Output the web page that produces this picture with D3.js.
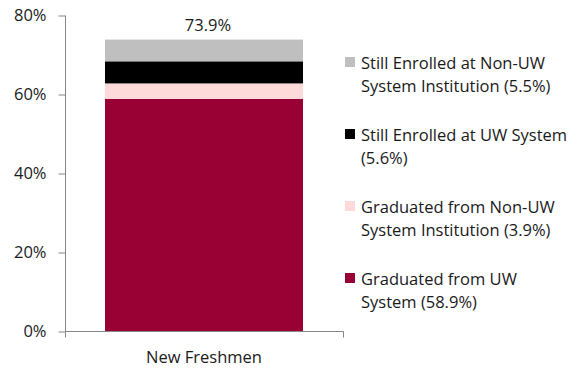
<!DOCTYPE html>
<html lang="en">
<head>
<meta charset="utf-8">
<title>New Freshmen outcomes</title>
<style>
  body { margin: 0; background: #fff; }
  text { font-family: "Open Sans", sans-serif; fill: #1a1a1a; }
</style>
</head>
<body>
<script src="https://d3js.org/d3.v7.min.js"></script>
<script>
// data
var categories = ["New Freshmen"];
var seriesNames = [
  "Graduated from UW System (58.9%)",
  "Graduated from Non-UW System Institution (3.9%)",
  "Still Enrolled at UW System (5.6%)",
  "Still Enrolled at Non-UW System Institution (5.5%)"
];
var seriesValues = [58.9, 3.9, 5.6, 5.5];
var seriesColors = ["#990033", "#ffdada", "#000000", "#bfbfbf"];
var totalLabel = "73.9%";
var yTicks = [0, 20, 40, 60, 80];

// legend lines, top to bottom (reverse of stack order)
var legendLines = [
  ["Still Enrolled at Non-UW", "System Institution (5.5%)"],
  ["Still Enrolled at UW System", "(5.6%)"],
  ["Graduated from Non-UW", "System Institution (3.9%)"],
  ["Graduated from UW", "System (58.9%)"]
];

var w = 584, h = 369;
var fs = "16.5px";
var svg = d3.select("body").append("svg")
  .attr("width", w).attr("height", h);

var y = d3.scaleLinear().domain([0, 80]).range([331.5, 15.5]);
var x = d3.scaleBand().domain(categories).range([65, 343]).paddingInner(0).paddingOuter(0.202);

// y axis
var yAxis = d3.axisLeft(y).tickValues(yTicks).tickSize(7).tickPadding(12)
  .tickFormat(function(d) { return d + "%"; });
var gy = svg.append("g").attr("transform", "translate(65.5,0)").call(yAxis);
gy.select(".domain").attr("stroke", "#868686").attr("d", "M0," + y(80) + "V" + y(0));
gy.selectAll(".tick line").attr("stroke", "#868686");
gy.selectAll(".tick text").style("font-size", fs).attr("fill", "#1a1a1a")
  .attr("font-family", null);

// stacked bars
var stack = [];
var acc = 0;
seriesValues.forEach(function(v, i) {
  stack.push({ y0: acc, y1: acc + v, color: seriesColors[i] });
  acc += v;
});
svg.append("g").selectAll("rect").data(stack).enter().append("rect")
  .attr("x", x(categories[0]))
  .attr("width", x.bandwidth())
  .attr("y", function(d) { return y(d.y1); })
  .attr("height", function(d) { return y(d.y0) - y(d.y1); })
  .attr("fill", function(d) { return d.color; });

// x axis line with end ticks
var xr = x.range();
svg.append("path")
  .attr("d", "M" + (xr[0] + 0.5) + "," + (y(0) + 6) + "V" + y(0) + "H" + (xr[1] + 0.5) + "V" + (y(0) + 6))
  .attr("fill", "none")
  .attr("stroke", "#868686");

// category label
svg.append("text")
  .attr("x", x(categories[0]) + x.bandwidth() / 2)
  .attr("y", 363)
  .attr("text-anchor", "middle")
  .style("font-size", fs)
  .text(categories[0]);

// total label
svg.append("text")
  .attr("x", x(categories[0]) + x.bandwidth() / 2 + 4)
  .attr("y", y(acc) - 9)
  .attr("text-anchor", "middle")
  .style("font-size", fs)
  .text(totalLabel);

// legend
var legendColors = seriesColors.slice().reverse();
var lg = svg.append("g");
legendLines.forEach(function(lines, i) {
  var top = 57 + i * 72;
  lg.append("rect")
    .attr("x", 345).attr("y", top)
    .attr("width", 10).attr("height", 10)
    .attr("fill", legendColors[i]);
  lines.forEach(function(t, j) {
    lg.append("text")
      .attr("x", 361).attr("y", top + 12 + j * 22.5)
      .style("font-size", fs)
      .text(t);
  });
});
</script>
</body>
</html>
